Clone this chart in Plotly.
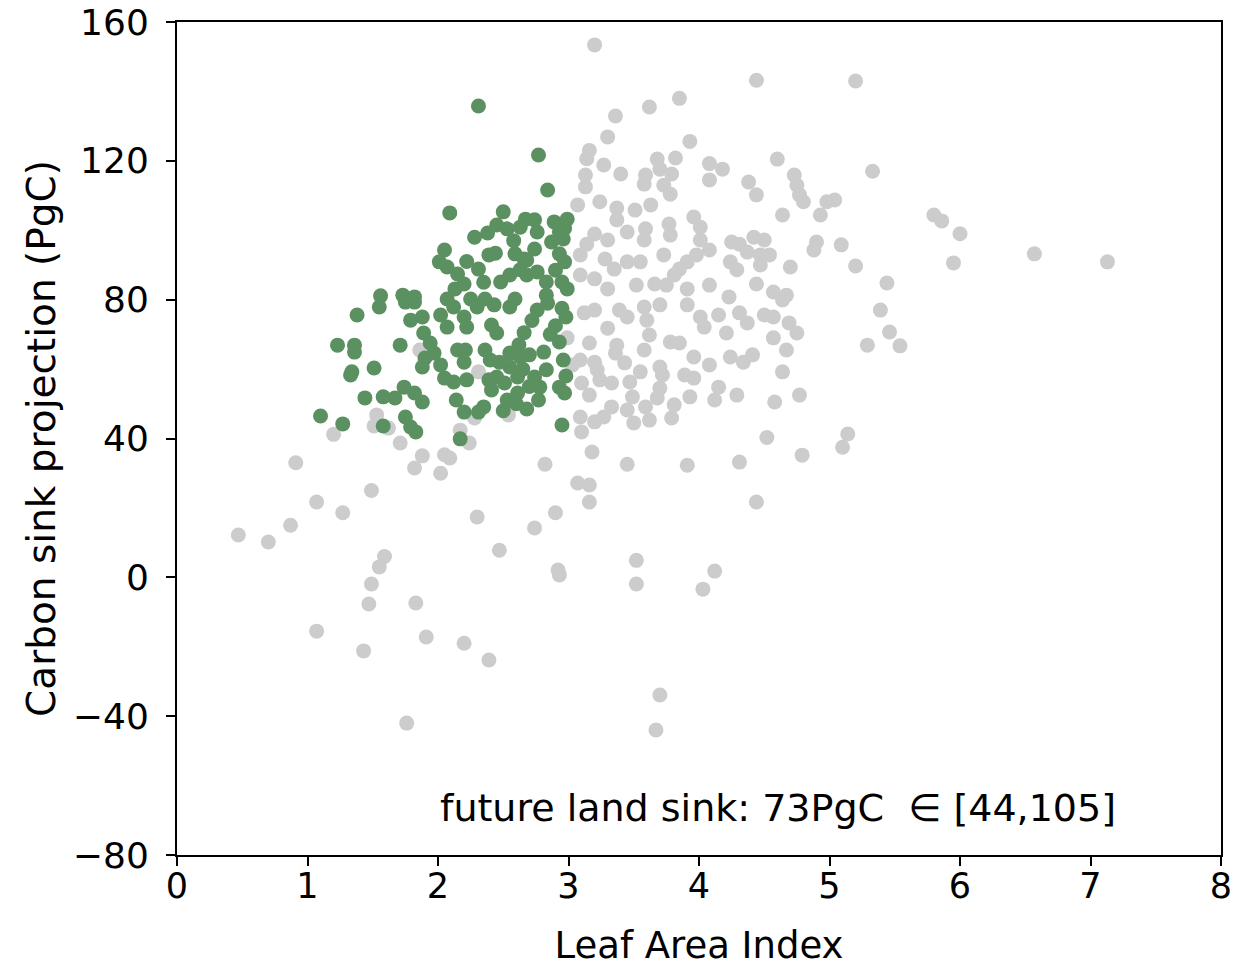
import plotly.graph_objects as go

# Gray (all samples)
gray_x = [0.47,0.70,0.87,0.91,1.07,1.07,1.27,1.20,1.49,1.43,1.47,1.49,1.55,1.59,1.76,1.83,1.91,2.20,2.39,2.47,
          2.30,2.74,2.90,2.92,2.93,2.82,3.18,3.07,3.16,3.16,3.45,3.52,3.52,3.70,3.67,4.03,4.12,3.91,4.31,4.44,
          4.52,4.79,4.58,4.77,5.10,5.14,5.29,5.39,5.46,5.54,5.44,5.80,5.86,6.00,5.95,6.57,7.13,5.33,3.20,4.44,
          5.20,3.85,3.62,3.36,3.30,3.93,3.16,3.14,3.27,3.82,3.68,4.60,4.08,4.18,3.40,3.59,3.70,3.79,3.13,3.13,
          3.58,3.73,3.78,4.08,4.38,4.44,4.73,4.75,4.77,4.80,4.98,5.04,4.93,4.64,4.90,4.88,5.09,5.20,4.70,3.07,
          3.24,3.37,3.51,3.63,3.96,4.01,4.01,3.77,3.78,3.59,3.58,3.37,3.45,3.20,3.30,4.25,4.31,4.42,4.50,4.37,
          4.47,4.54,4.24,4.29,4.47,4.08,3.98,3.91,3.85,3.81,3.73,3.55,3.45,3.35,3.28,3.14,3.09,3.09,3.20,3.30,
          3.52,3.66,3.75,3.91,4.08,4.23,4.44,4.57,4.67,3.12,3.20,3.30,3.39,3.45,3.58,3.70,3.60,3.62,3.58,3.37,
          3.16,2.99,3.78,3.85,3.91,4.01,4.04,4.15,4.21,4.31,4.37,4.50,4.57,4.69,4.75,4.67,4.57,4.64,3.96,4.08,
          4.24,4.34,4.41,4.64,3.89,3.96,4.15,4.29,4.12,3.93,3.70,3.72,3.70,3.68,3.81,3.79,3.55,3.47,3.49,3.59,
          3.62,3.50,3.45,3.33,3.27,3.20,3.09,3.10,3.33,3.24,3.16,3.10,3.03,3.09,3.20,3.22,3.43,3.36,1.53,1.51,
          1.62,1.71,1.88,1.82,2.05,2.09,2.02,2.17,2.24,2.28,2.54,1.86,2.31]
gray_y = [12.2,10.2,15.0,33.0,21.7,-15.5,18.6,41.2,25.0,-21.2,-7.7,-1.9,3.0,6.0,-42.0,-7.4,-17.2,-19.0,-23.8,7.8,
          17.4,14.2,18.6,2.1,0.7,32.6,36.1,27.2,26.6,21.7,32.6,4.9,-1.9,-33.9,-44.0,-3.4,1.8,32.3,33.2,21.7,
          40.3,35.2,50.5,52.5,37.5,41.3,66.9,77.0,70.7,66.7,84.8,104.4,102.7,99.0,90.6,93.2,90.9,117.0,153.4,143.2,
          143.0,138.0,135.5,132.9,126.9,125.6,123.0,120.6,118.8,120.8,120.5,120.5,119.2,117.6,116.2,115.9,117.6,116.2,115.9,112.5,
          113.3,113.0,110.4,114.5,113.9,110.2,115.9,113.0,110.2,108.2,108.2,108.7,104.4,104.4,96.6,94.3,95.8,89.7,89.4,107.3,
          108.2,106.4,105.8,107.3,103.8,100.9,97.2,101.8,98.6,100.4,97.2,103.0,99.5,98.9,97.2,96.6,96.0,98.0,97.2,93.7,
          92.9,92.9,90.9,88.6,90.0,94.3,92.9,90.9,88.8,87.1,92.9,90.9,90.9,88.8,91.7,96.0,92.9,87.1,86.0,83.1,
          84.2,84.5,84.2,83.1,84.2,80.8,84.5,82.2,81.3,76.2,77.0,71.8,77.0,75.0,77.9,78.5,74.1,69.8,65.5,66.9,
          67.5,69.0,67.8,67.5,78.5,75.0,72.1,75.6,70.4,76.2,73.3,75.6,75.0,73.3,70.4,65.5,69.0,79.9,63.5,61.2,
          63.5,62.0,64.1,59.2,58.3,57.4,54.8,52.5,51.1,52.0,60.6,58.3,54.5,51.7,49.7,45.9,59.2,56.3,52.0,49.1,
          45.3,44.5,48.2,49.1,46.2,44.8,46.2,41.9,56.0,56.9,52.5,56.0,61.2,62.6,62.0,59.8,61.8,64.6,46.8,43.6,
          43.0,38.7,35.0,31.5,35.3,34.4,30.0,42.4,38.7,45.9,46.8,65.5,59.2]

# Green (constrained samples)
green_x = [2.31,2.77,2.84,2.09,2.50,2.38,2.45,2.53,2.63,2.67,2.74,2.76,2.89,2.99,2.93,2.96,2.87,2.74,2.93,2.97,
           2.68,2.76,2.83,2.95,2.99,2.83,2.68,2.05,2.01,2.07,2.15,2.20,2.13,2.31,2.39,2.44,2.59,2.66,2.55,2.48,
           2.63,1.56,1.73,1.82,2.07,2.25,2.36,2.59,1.38,1.55,1.75,1.82,1.79,1.88,2.02,2.07,2.12,2.20,2.22,2.30,
           2.43,2.55,2.41,2.45,1.89,1.94,1.97,1.90,1.88,2.02,2.05,2.12,2.22,2.15,2.20,2.21,2.36,2.40,2.39,2.41,
           2.51,2.55,2.63,2.55,2.61,2.53,2.61,2.45,1.23,1.36,1.36,1.71,1.34,1.33,1.51,1.44,1.58,1.67,1.74,1.82,
           1.88,1.75,1.79,1.83,1.58,1.10,1.27,2.14,2.20,2.31,2.35,2.17,2.76,2.84,2.98,2.93,2.96,2.81,2.70,2.83,
           2.74,2.78,2.77,2.93,2.97,2.95,2.65,2.70,2.60,2.68,2.50,2.47,2.86,2.90,2.66,2.72,2.62,2.35,2.90,2.22,
           2.28,2.58,2.95,2.98,2.97]
green_y = [135.8,121.7,111.6,105.0,105.3,99.2,101.5,100.4,100.9,103.2,103.0,99.5,102.4,103.2,99.5,97.5,96.6,94.6,93.2,90.9,
           91.4,88.0,85.1,85.1,83.1,81.3,87.1,94.3,90.9,89.4,87.4,84.5,83.1,88.8,92.9,93.4,93.2,91.7,87.1,85.1,
           88.6,81.1,81.3,80.8,80.2,80.2,80.2,80.2,75.6,77.9,79.3,79.3,74.1,75.0,75.6,72.1,77.9,75.0,72.1,77.9,
           78.5,77.9,72.7,70.4,70.4,67.5,64.6,63.2,60.6,61.2,57.4,56.3,56.9,65.5,62.0,65.5,65.5,62.6,56.9,54.0,
           56.0,64.6,63.5,60.6,57.7,51.1,53.1,57.7,66.9,66.9,64.9,66.9,59.2,58.3,60.3,51.7,52.0,51.7,54.8,53.1,
           50.5,46.2,43.3,41.9,43.6,46.5,44.2,51.1,47.6,47.6,49.1,39.9,77.0,79.0,75.0,67.8,62.6,64.9,64.1,59.8,
           57.7,54.8,51.1,54.8,53.1,43.9,60.0,55.0,50.0,48.5,48.0,62.0,70.0,72.5,70.5,74.0,67.0,85.0,88.5,91.0,
           98.0,97.0,77.5,58.0,100.5]

x_ticks = [0, 1, 2, 3, 4, 5, 6, 7, 8]
y_ticks = [-80, -40, 0, 40, 80, 120, 160]
annotation_text = "future land sink: 73PgC  \u2208 [44,105]"

FONT = "DejaVu Sans"

fig = go.Figure()
fig.add_trace(go.Scatter(x=gray_x, y=gray_y, mode="markers",
                         marker=dict(size=15, color="rgb(204,204,204)", line=dict(width=0)),
                         showlegend=False, hoverinfo="skip"))
fig.add_trace(go.Scatter(x=green_x, y=green_y, mode="markers",
                         marker=dict(size=15, color="rgb(91,145,96)", line=dict(width=0)),
                         showlegend=False, hoverinfo="skip"))

axis_common = dict(showgrid=False, zeroline=False, showline=True, linecolor="black", linewidth=2,
                   mirror=True, ticks="outside", ticklen=9, tickwidth=2, tickcolor="black",
                   automargin=False, ticklabeloverflow="allow")

fig.update_xaxes(range=[0, 8], tickmode="array", tickvals=x_ticks,
                 tickfont=dict(family=FONT, size=35, color="black"), ticklabelstandoff=-10,
                 title=dict(text="Leaf Area Index", font=dict(family=FONT, size=37, color="black"), standoff=27),
                 **axis_common)
fig.update_yaxes(range=[-80, 160], tickmode="array", tickvals=y_ticks,
                 tickfont=dict(family=FONT, size=36, color="black"), ticklabelstandoff=10,
                 title=dict(text="Carbon sink projection (PgC)", font=dict(family=FONT, size=39, color="black"), standoff=5),
                 **axis_common)

fig.add_annotation(x=7.21, y=-66.5, xref="x", yref="y", text=annotation_text, showarrow=False,
                   xanchor="right", yanchor="middle", font=dict(family=FONT, size=38, color="black"))

fig.update_layout(width=1235, height=967, margin=dict(l=177, r=14, t=22, b=112),
                  plot_bgcolor="white", paper_bgcolor="white", font=dict(family=FONT))

# remove the default 8px page margin so the figure fills the window exactly
fig.write_html("out.html", config={"displayModeBar": False},
               post_script="document.body.style.margin='0';")
